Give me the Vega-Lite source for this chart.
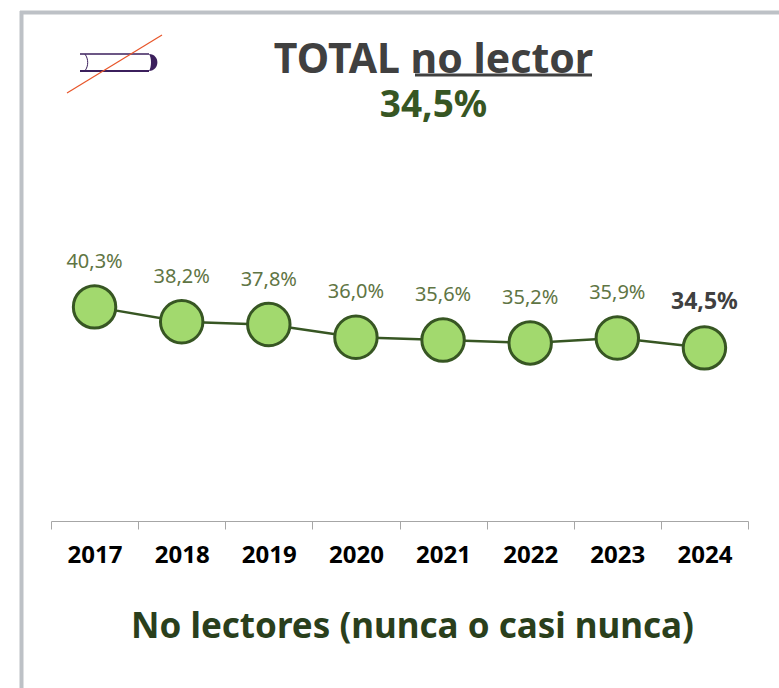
{"$schema":"https://vega.github.io/schema/vega-lite/v6.json","autosize":{"type":"none"},"padding":{"left":51,"top":150,"right":31,"bottom":167},"width":697,"height":371,"background":"white","view":{"stroke":null},
"title":{"text":"TOTAL no lector","subtitle":"34,5%","anchor":"middle","dx":34,"offset":-116,"font":"Noto Sans","fontSize":41,"fontWeight":"bold","color":"#404040","subtitleFont":"Noto Sans","subtitleFontSize":37,"subtitleFontWeight":"bold","subtitleColor":"#375623","subtitlePadding":6},
"data":{"values":[{"anio":"2017","pct":40.3,"etiqueta":"40,3%"},{"anio":"2018","pct":38.2,"etiqueta":"38,2%"},{"anio":"2019","pct":37.8,"etiqueta":"37,8%"},{"anio":"2020","pct":36.0,"etiqueta":"36,0%"},{"anio":"2021","pct":35.6,"etiqueta":"35,6%"},{"anio":"2022","pct":35.2,"etiqueta":"35,2%"},{"anio":"2023","pct":35.9,"etiqueta":"35,9%"},{"anio":"2024","pct":34.5,"etiqueta":"34,5%"}]},
"encoding":{"x":{"field":"anio","type":"nominal","scale":{"type":"band","paddingInner":0,"paddingOuter":0},"axis":{"title":"No lectores (nunca o casi nunca)","titleFont":"Noto Sans","titleFontSize":35,"titleFontWeight":"bold","titleColor":"#2A3F1C","titleX":361,"titleY":116,"titleAnchor":"middle","titleBaseline":"alphabetic","labelAngle":0,"labelFont":"Noto Sans","labelFontSize":24,"labelFontWeight":"bold","labelColor":"#000000","labelPadding":14,"domainColor":"#A6A6A6","domainWidth":1,"tickColor":"#A6A6A6","tickSize":8,"tickWidth":1,"tickBand":"extent","grid":false}},
"y":{"field":"pct","type":"quantitative","scale":{"domain":[10,62.5]},"axis":null}},
"layer":[
{"mark":{"type":"line","color":"#375623","strokeWidth":2.5}},
{"mark":{"type":"point","filled":true,"size":1800,"fill":"#A2D96E","stroke":"#375623","strokeWidth":3,"opacity":1,"fillOpacity":1}},
{"transform":[{"filter":"datum.anio!=='2024'"}],"mark":{"type":"text","dy":-45,"font":"Noto Sans","fontSize":20,"color":"#5F7544"},"encoding":{"text":{"field":"etiqueta"}}},
{"transform":[{"filter":"datum.anio==='2024'"}],"mark":{"type":"text","dy":-46,"font":"Noto Sans","fontSize":23,"fontWeight":"bold","color":"#404040"},"encoding":{"text":{"field":"etiqueta"}}},
{"data":{"values":[{}]},"mark":{"type":"rule","color":"#404040","strokeWidth":3},"encoding":{"x":{"value":364},"x2":{"value":541},"y":{"value":-75},"y2":{"value":-75}}},
{"data":{"values":[{}]},"mark":{"type":"rule","color":"#BDC1C6","strokeWidth":4},"encoding":{"x":{"value":-31},"x2":{"value":740},"y":{"value":-137.5},"y2":{"value":-137.5}}},
{"data":{"values":[{}]},"mark":{"type":"rule","color":"#BDC1C6","strokeWidth":4},"encoding":{"x":{"value":-29.5},"x2":{"value":-29.5},"y":{"value":-139},"y2":{"value":540}}},
{"data":{"values":[{}]},"mark":{"type":"rule","color":"#3B1F5C","strokeWidth":1.6},"encoding":{"x":{"value":29},"x2":{"value":98},"y":{"value":-96},"y2":{"value":-96}}},
{"data":{"values":[{}]},"mark":{"type":"rule","color":"#3B1F5C","strokeWidth":2},"encoding":{"x":{"value":29},"x2":{"value":98},"y":{"value":-79},"y2":{"value":-79}}},
{"data":{"values":[{}]},"mark":{"type":"point","filled":true,"fill":"#3B1F5C","stroke":null,"opacity":1,"size":324,"shape":"M0 -0.94 C1.25 -0.94 1.25 0.94 0 0.94 C0.3 0.5 0.3 -0.5 0 -0.94 Z"},"encoding":{"x":{"value":98},"y":{"value":-87.5}}},
{"data":{"values":[{}]},"mark":{"type":"point","filled":false,"stroke":"#3B1F5C","strokeWidth":1,"opacity":1,"size":324,"shape":"M0 -0.92 C0.4 -0.4 0.4 0.4 0 0.92"},"encoding":{"x":{"value":34},"y":{"value":-87.5}}},
{"data":{"values":[{}]},"mark":{"type":"rule","color":"#E8562A","strokeWidth":1.2},"encoding":{"x":{"value":16},"x2":{"value":111},"y":{"value":-57},"y2":{"value":-115}}}
]}
